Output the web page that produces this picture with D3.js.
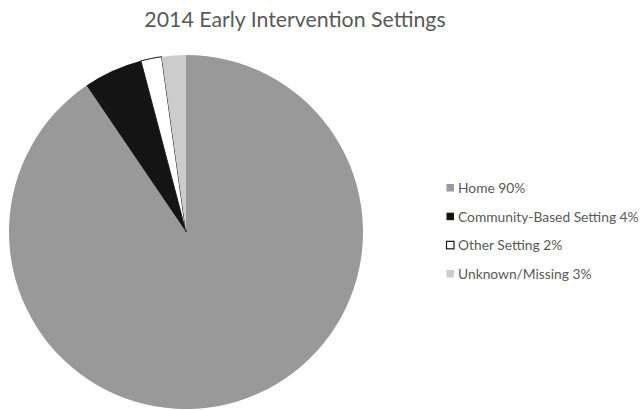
<!DOCTYPE html>
<html><head><meta charset="utf-8">
<script src="https://cdn.jsdelivr.net/npm/d3@7"></script>
<style>body{margin:0;background:#fff}</style>
</head><body><svg id="c" width="640" height="410"></svg>
<script>
const categories = ["Home", "Community-Based Setting", "Other Setting", "Unknown/Missing"];
const values = [90.5, 5.4, 1.9, 2.2];
const labels = ["Home 90%", "Community-Based Setting 4%", "Other Setting 2%", "Unknown/Missing 3%"];
const colors = ["#999999", "#141414", "#ffffff", "#cccccc"];
const title = "2014 Early Intervention Settings";

const svg = d3.select("#c");
const font = "Lato, 'Open Sans', sans-serif";
svg.append("text").attr("x", 295).attr("y", 27).attr("text-anchor", "middle")
  .attr("font-family", font).attr("font-size", 21.3).attr("fill", "#595959").text(title);

const data = categories.map((c, i) => ({c, v: values[i], col: colors[i], lab: labels[i]}));
const pie = d3.pie().sort(null).value(d => d.v);
const arc = d3.arc().innerRadius(0).outerRadius(177);
const g = svg.append("g").attr("transform", "translate(186,232)");
g.selectAll("path").data(pie(data)).join("path")
  .attr("d", arc).attr("fill", d => d.data.col)
  .attr("stroke", d => d.data.col === "#ffffff" ? "#141414" : "none")
  .attr("stroke-width", 1);

const leg = svg.append("g");
const ys = d3.scalePoint().domain(categories).range([188, 274]);
const row = leg.selectAll("g").data(data).join("g")
  .attr("transform", d => `translate(446,${ys(d.c)})`);
row.append("rect").attr("x", 0.5).attr("y", -4).attr("width", 7.5).attr("height", 7.5)
  .attr("fill", d => d.col)
  .attr("stroke", d => d.col === "#ffffff" ? "#141414" : "none").attr("stroke-width", 1.2);
row.append("text").attr("x", 12).attr("y", 5)
  .attr("font-family", font).attr("font-size", 13.8).attr("fill", "#595959").text(d => d.lab);
</script></body></html>
